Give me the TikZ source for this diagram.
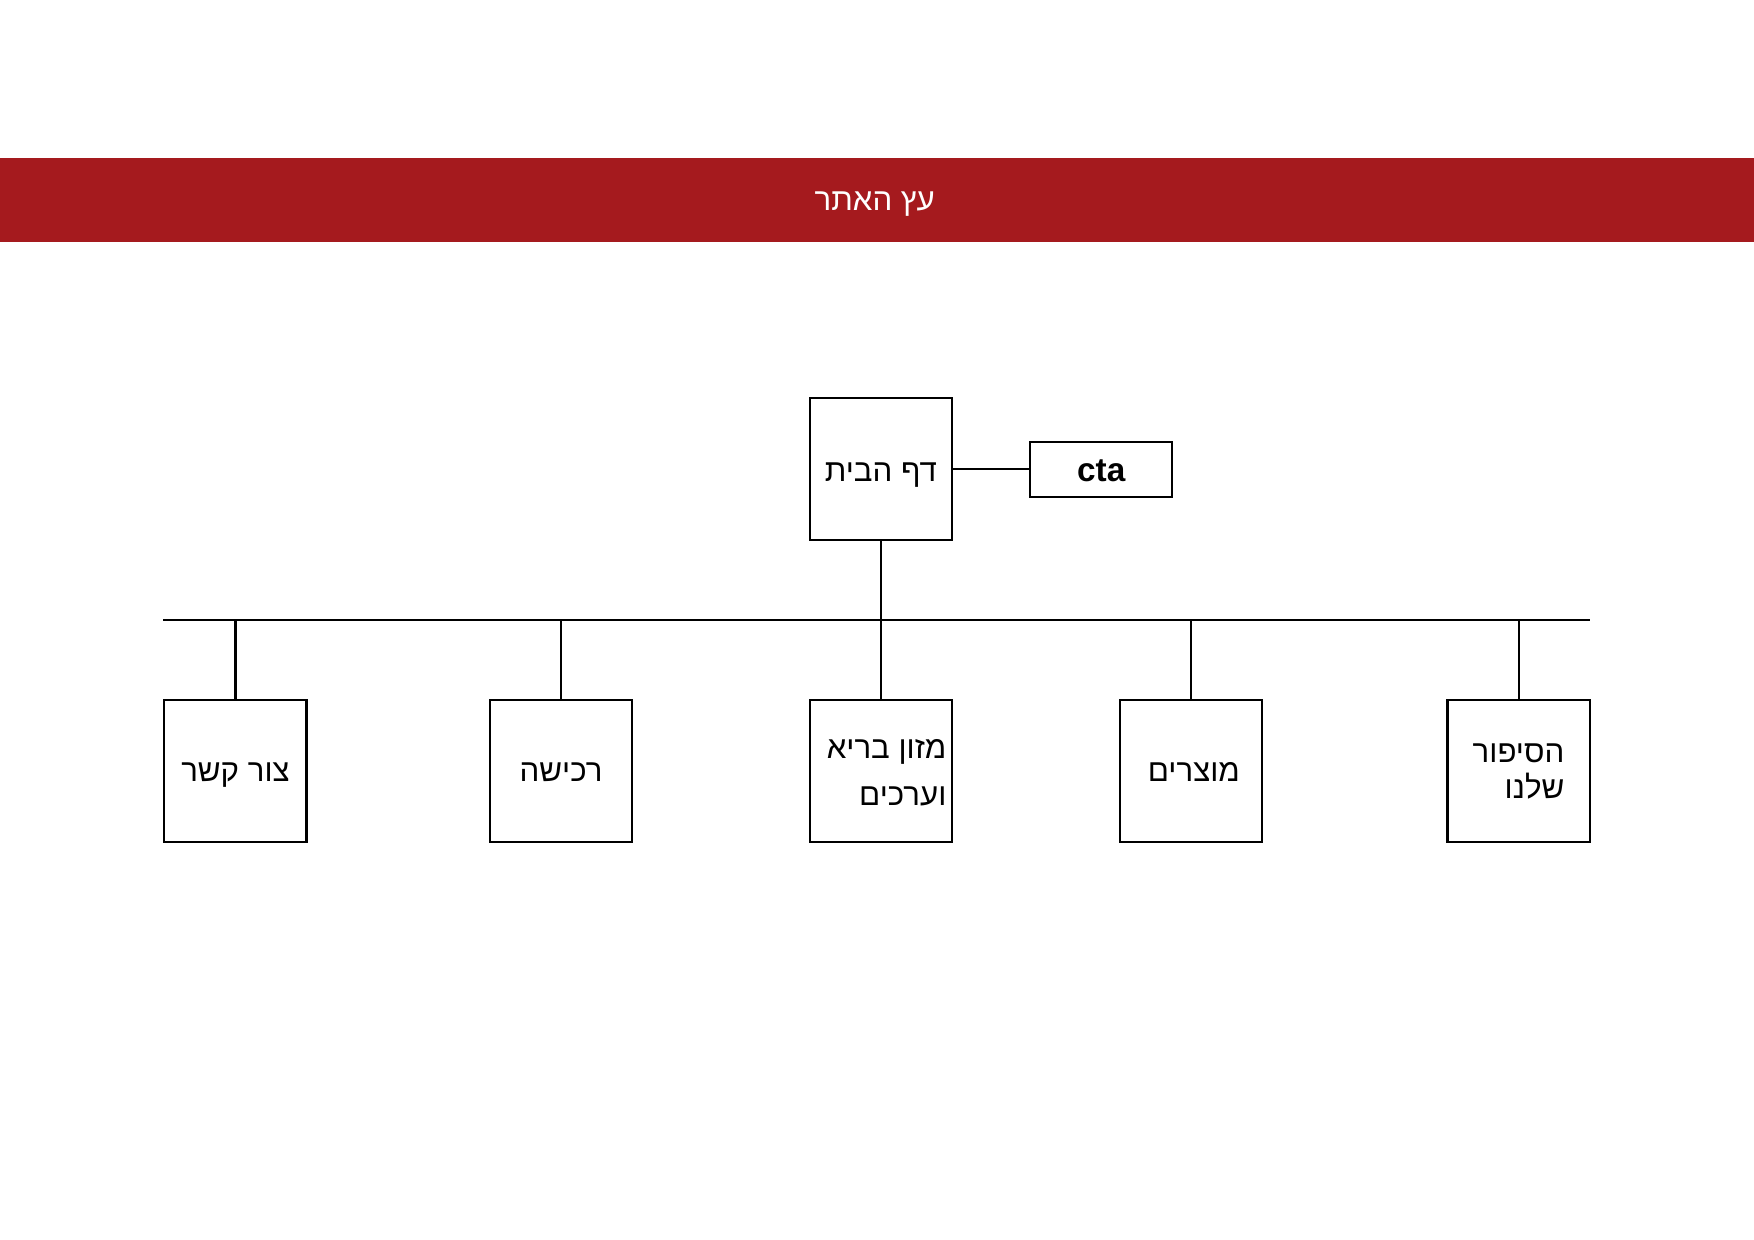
\documentclass[tikz,border=0pt]{standalone}
\usepackage{fontspec}
\setmainfont{Liberation Sans}
\newfontfamily\hebfont[Script=Hebrew]{Liberation Sans}
\TeXXeTstate=1
\definecolor{bannerred}{RGB}{165,26,30}
\newcommand{\heb}[1]{{\hebfont\beginR #1\endR}}
\begin{document}
\begin{tikzpicture}[x=0.537pt,y=-0.537pt,
        page/.style={draw,line width=1pt,minimum width=68.2pt,minimum height=68.2pt,inner sep=0pt,align=right,font=\fontsize{15}{18}\selectfont,text height=10.6pt,text depth=0pt},
        link/.style={line width=1pt}]
        \useasboundingbox (0,0) rectangle (1568,1108);
        \fill[bannerred] (0,141) rectangle (1568,216);
        \node[text=white,font=\fontsize{15}{18}\selectfont,text height=10.2pt,text depth=0pt] (title) at (782,178.5) {\heb{עץ האתר}};
        \node[page,text height=11.6pt] (home) at (787.5,419.5) {\heb{דף הבית}};
        \node[page,minimum height=26.3pt,text height=11.4pt,font=\fontsize{16}{19}\selectfont\bfseries] (cta) at (984.5,419.5) {cta};
        \node[page] (p1) at (210.5,689) {\heb{צור קשר}};
        \node[page] (p2) at (501.5,689) {\heb{רכישה}};
        \node[page,text height=33.4pt] (p3) at (787.5,689) {\hspace*{5.4pt}\heb{מזון בריא}\\[4.5pt]\heb{וערכים}};
        \node[page] (p4) at (1064.5,689) {\hspace*{3pt}\heb{מוצרים}};
        \node[page,text height=27pt] (p5) at (1357.5,689) {\heb{הסיפור}\\[-0.5pt]\heb{שלנו}};
        \coordinate (l) at (146,554);
        \coordinate (r) at (1421,554);
        \draw[link] (home) -- (cta);
        \draw[link] (l) -- (r);
        \draw[link] (home.south) -- (home.south |- l);
        \draw[link] (p1.north) -- (p1.north |- l);
        \draw[link] (p2.north) -- (p2.north |- l);
        \draw[link] (p3.north) -- (p3.north |- l);
        \draw[link] (p4.north) -- (p4.north |- l);
        \draw[link] (p5.north) -- (p5.north |- l);
    \end{tikzpicture}
\end{document}
